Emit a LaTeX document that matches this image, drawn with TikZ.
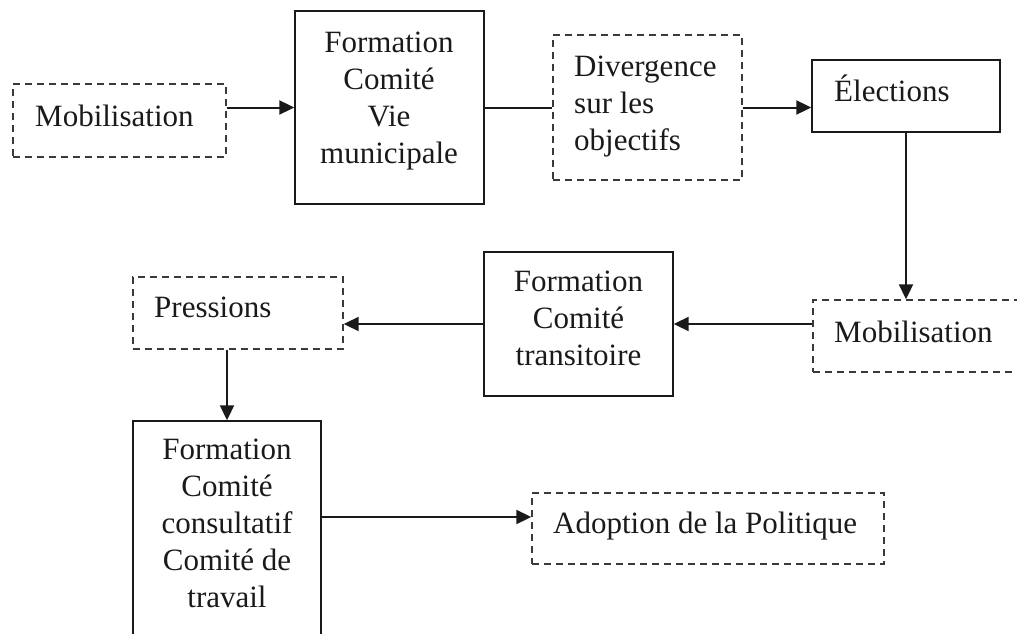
\documentclass[tikz,border=0pt]{standalone}
\usepackage{fontspec}
\setmainfont{Liberation Serif}
\usetikzlibrary{arrows.meta}
\definecolor{ink}{HTML}{1A1A1A}
\definecolor{dashink}{HTML}{3A3A3A}
\begin{document}
\begin{tikzpicture}[x=1pt,y=-1pt,
  solidbox/.style={draw=ink, line width=1.4pt, inner sep=0pt},
  dashbox/.style={draw=dashink, line width=1.4pt, inner sep=0pt, dash pattern=on 7pt off 5pt},
  txt/.style={inner sep=0pt, text=ink, font=\fontsize{31}{37}\selectfont},
  ctxt/.style={txt, align=center, anchor=north},
  ltxt/.style={txt, align=left, anchor=north west},
  link/.style={draw=ink, line width=2pt},
  arr/.style={link, -{Triangle[length=15pt,width=14pt]}}]
\useasboundingbox (0,0) rectangle (1017,634);
\begin{scope}
\clip (0,0) rectangle (1017,634);

% boxes
\node[dashbox,  minimum width=213pt, minimum height=73pt]  (mobA)  at (119.5,120.5) {};
\node[solidbox, minimum width=189pt, minimum height=193pt] (vie)   at (389.5,107.5) {};
\node[dashbox,  minimum width=189pt, minimum height=145pt] (div)   at (647.5,107.5) {};
\node[solidbox, minimum width=188pt, minimum height=72pt]  (elec)  at (906,96) {};
\node[dashbox,  minimum width=212pt, minimum height=72pt]  (mobB)  at (919,336) {};
\node[solidbox, minimum width=189pt, minimum height=144pt] (trans) at (578.5,324) {};
\node[dashbox,  minimum width=210pt, minimum height=72pt]  (pres)  at (238,313) {};
\node[solidbox, minimum width=188pt, minimum height=229pt] (cons)  at (227,535.5) {};
\node[dashbox,  minimum width=352pt, minimum height=71pt]  (adopt) at (708,528.5) {};

% texts
\node[txt, anchor=base west] (mobAt) at (35,126) {Mobilisation};
\node[ctxt] (viet) at (389,32) {Formation\\Comité\\Vie\\municipale};
\node[ltxt] (divt) at (574,56) {Divergence\\sur les\\objectifs};
\node[txt, anchor=base west] (elect) at (834,101) {Élections};
\node[txt, anchor=base west] (mobBt) at (834,342) {Mobilisation};
\node[ctxt] (transt) at (578.5,271) {Formation\\Comité\\transitoire};
\node[txt, anchor=base west] (prest) at (154,317) {Pressions};
\node[ctxt] (const) at (227,439) {Formation\\Comité\\consultatif\\Comité de\\travail};
\node[txt, anchor=base west] (adoptt) at (553,533) {Adoption de la Politique};

% connectors
\draw[arr]  (mobA.east |- vie.west) -- (vie.west);
\draw[link] (vie.east) -- (div.west);
\draw[arr]  (div.east) -- (div.east -| elec.west);
\draw[arr]  (elec.south) -- (elec.south |- mobB.north);
\draw[arr]  (mobB.west |- trans.east) -- (trans.east);
\draw[arr]  (trans.west) -- (trans.west -| pres.east);
\draw[arr]  (pres.south -| cons.north) -- (cons.north);
\draw[arr]  ([yshift=18.5pt]cons.east) -- ([yshift=18.5pt]cons.east -| adopt.west);
\end{scope}
\end{tikzpicture}
\end{document}
